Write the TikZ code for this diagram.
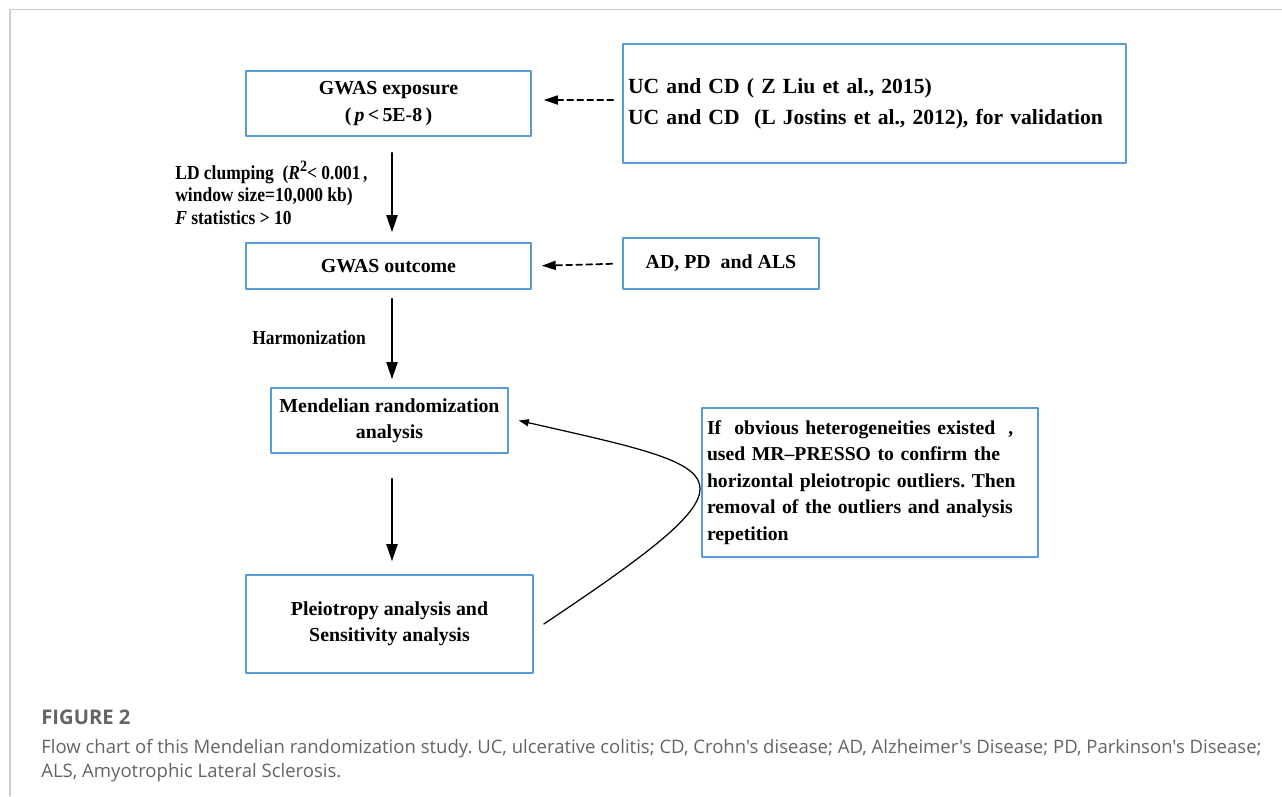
\documentclass[tikz,border=0pt]{standalone}
\usepackage{fontspec}
\setmainfont{Liberation Serif}
\newfontfamily\capfont{Open Sans}
\newfontfamily\narrowfont[FakeStretch=0.88]{Liberation Serif}
\usetikzlibrary{arrows.meta}
\definecolor{boxblue}{RGB}{91,155,213}
\definecolor{capgray}{RGB}{100,100,100}
\definecolor{framegray}{RGB}{205,205,205}
\frenchspacing

\begin{document}
\begin{tikzpicture}[x=0.02cm,y=-0.02cm,line cap=round,line join=round,
  box/.style={draw=boxblue,line width=0.9pt,align=center,inner sep=0pt,
    font=\bfseries\fontsize{11.3}{15}\selectfont},
  flow/.style={-{Triangle[length=0.34cm,width=0.22cm]},line width=1.1pt},
  feed/.style={-{Triangle[length=0.28cm,width=0.18cm]},line width=1pt,dash pattern=on 3.4pt off 2.3pt},
  loopback/.style={-{Triangle[length=0.2cm,width=0.14cm]},line width=0.7pt},
  steplabel/.style={align=left,inner sep=0pt,font=\narrowfont\bfseries\fontsize{11.3}{12.8}\selectfont}]
\useasboundingbox (0,0) rectangle (1282,796);
% frame
\draw [color=framegray,line width=1.1pt] (1282,9.5)-- (10,9.5);
\draw [color=framegray,line width=0.6pt] (10,9.5)-- (10,796);
% main column
\node [box,minimum width=5.7cm,minimum height=1.3cm] (expo) at (388.5,103.5) {GWAS exposure\\(\,\textit{p}\,<\,5E-8\,)};
\node [box,minimum width=5.7cm,minimum height=0.92cm] (outc) at (388.5,266) {GWAS outcome};
\node [box,minimum width=4.74cm,minimum height=1.3cm] (mr) at (389.5,420.5) {Mendelian randomization\\analysis};
\node [box,minimum width=5.74cm,minimum height=1.96cm] (pleio) at (389.5,624) {Pleiotropy analysis and\\Sensitivity analysis};
% data sources
\node [box,minimum width=10.06cm,minimum height=2.38cm,align=left,text width=9.86cm,inner xsep=0.1cm,
  font=\bfseries\fontsize{12.3}{17.6}\selectfont] (src1) at (874.5,103.5) {UC and CD ( Z Liu et al., 2015)\\UC and CD\ \ (L Jostins et al., 2012), for validation};
\node [box,minimum width=3.92cm,minimum height=1.02cm] (src2) at (721,263.5) {AD, PD\ \ and ALS};
\node [box,minimum width=6.72cm,minimum height=2.98cm,align=left,text width=6.52cm,inner xsep=0.1cm,
  font=\bfseries\fontsize{11.2}{15.1}\selectfont] (note) at (870,482.5) {If\ \ obvious heterogeneities existed\ \ ,\\used MR--PRESSO to confirm the\\horizontal pleiotropic outliers. Then\\removal of the outliers and analysis\\repetition};
% step labels
\node [steplabel,anchor=west] (ld) at (175,192.5) {LD clumping\ \ (\textit{R}\raisebox{0.4em}{\fontsize{9}{9}\selectfont 2}< 0.001\,\textit{,}\\window size=10,000 kb)\\\textit{F} statistics > 10};
\node [steplabel,anchor=west] (harm) at (252,338) {Harmonization};
% arrows
\draw [flow,shorten <=0.32cm,shorten >=0.2cm] ([xshift=0.07cm]expo.south)-- ([xshift=0.07cm]outc.north);
\draw [flow,shorten <=0.18cm,shorten >=0.16cm] ([xshift=0.07cm]outc.south)-- ([xshift=0.05cm]mr.north);
\draw [flow,shorten <=0.5cm,shorten >=0.26cm] ([xshift=0.05cm]mr.south)-- ([xshift=0.05cm]pleio.north);
\draw [feed,shorten <=0.18cm,shorten >=0.24cm] ([yshift=0.07cm]src1.west)-- ([yshift=0.07cm]expo.east);
\draw [feed,shorten <=0.2cm,shorten >=0.2cm] (src2.west)-- (outc.east);
\draw [loopback] ([xshift=0.2cm]pleio.east) .. controls (772,472) and (736,470) .. ([xshift=0.2cm]mr.east);
% caption
\node [anchor=west,inner sep=0pt,text=capgray,font=\capfont\bfseries\fontsize{11.5}{12}\selectfont] (figno) at (41,717) {FIGURE 2};
\node [anchor=west,inner sep=0pt,align=left,text=capgray,font=\capfont\fontsize{10.55}{13.6}\selectfont] (caption) at (41,761) {Flow chart of this Mendelian randomization study. UC, ulcerative colitis; CD, Crohn's disease; AD, Alzheimer's Disease; PD, Parkinson's Disease;\\ALS, Amyotrophic Lateral Sclerosis.};
\end{tikzpicture}
\end{document}
